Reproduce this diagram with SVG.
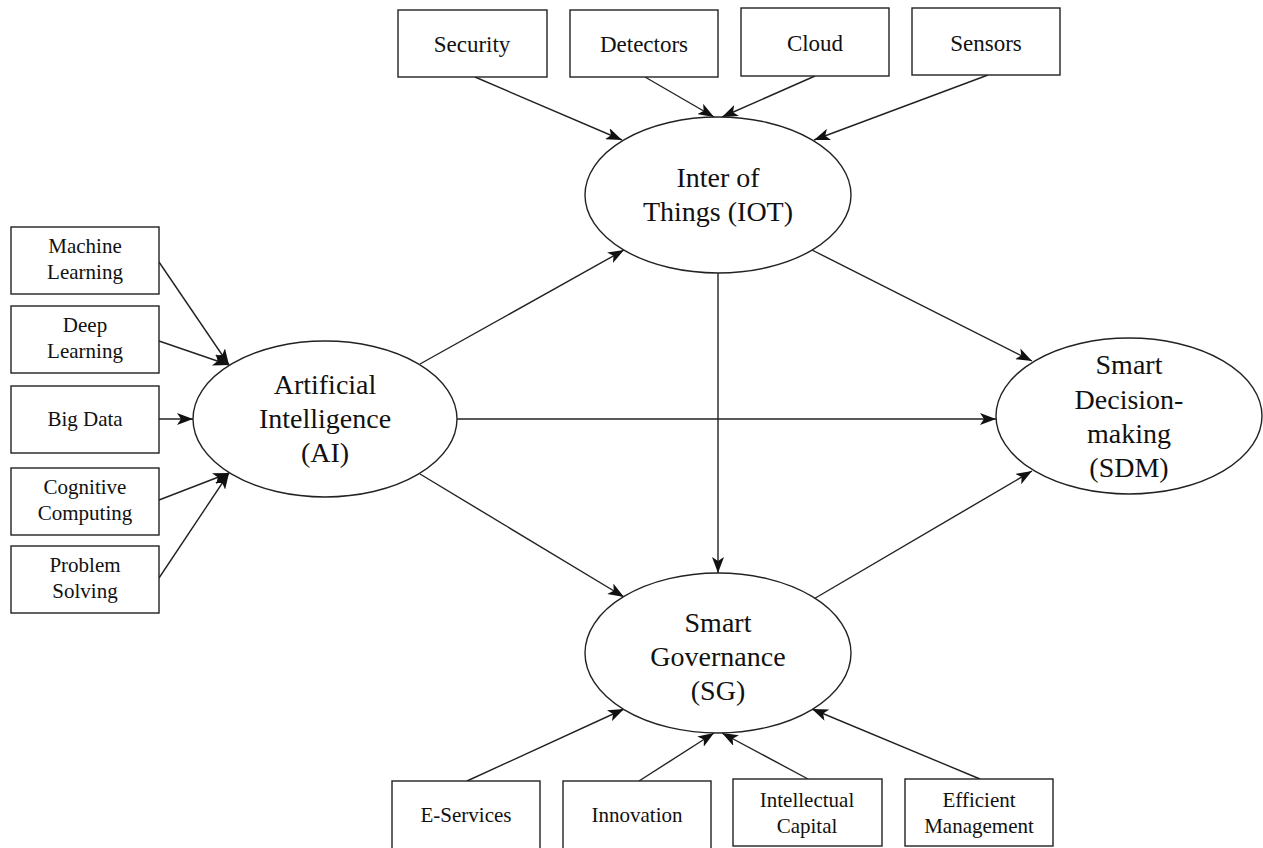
<svg xmlns="http://www.w3.org/2000/svg" width="1263" height="848" viewBox="0 0 1263 848">
<style>
.box{fill:#fff;stroke:#222;stroke-width:1.4}
.ell{fill:#fff;stroke:#222;stroke-width:1.4}
.t{font-family:"Liberation Serif","Times New Roman",serif;fill:#111;text-anchor:middle}
.tb{font-size:23px}
.ts{font-size:21px}
.te{font-size:28px}
.c line{stroke:#222;stroke-width:1.4;marker-end:url(#ah)}
</style>
<defs>
<marker id="ah" viewBox="0 0 16 12" refX="16" refY="6" markerWidth="16" markerHeight="12" markerUnits="userSpaceOnUse" orient="auto">
<path d="M0,0 L16,6 L0,12 L4,6 z" fill="#111"/>
</marker>
</defs>
<rect width="1263" height="848" fill="#fff"/>
<g class="c" id="connectors">
<line x1="475" y1="77" x2="622" y2="140"/>
<line x1="645" y1="77" x2="714" y2="117"/>
<line x1="815" y1="76" x2="722" y2="117"/>
<line x1="988" y1="75" x2="814" y2="140"/>
<line x1="159" y1="262" x2="229" y2="365"/>
<line x1="159" y1="341" x2="229" y2="365"/>
<line x1="159" y1="419" x2="193" y2="419"/>
<line x1="159" y1="500" x2="229" y2="473"/>
<line x1="159" y1="578" x2="229" y2="473"/>
<line x1="420" y1="364" x2="624" y2="250"/>
<line x1="457" y1="419" x2="996" y2="419"/>
<line x1="420" y1="474" x2="624" y2="597"/>
<line x1="718" y1="273" x2="718" y2="573"/>
<line x1="812" y1="250" x2="1032" y2="361"/>
<line x1="812" y1="600" x2="1032" y2="471"/>
<line x1="467" y1="781" x2="624" y2="709"/>
<line x1="639" y1="781" x2="714" y2="733"/>
<line x1="808" y1="779" x2="722" y2="733"/>
<line x1="980" y1="779" x2="812" y2="709"/>
</g>
<g id="security"><rect class="box" x="398" y="10" width="149" height="67"/><text class="t tb" x="472" y="52">Security</text></g>
<g id="detectors"><rect class="box" x="570" y="10" width="148" height="67"/><text class="t tb" x="644" y="52">Detectors</text></g>
<g id="cloud"><rect class="box" x="741" y="8" width="148" height="68"/><text class="t tb" x="815" y="51">Cloud</text></g>
<g id="sensors"><rect class="box" x="912" y="8" width="148" height="67"/><text class="t tb" x="986" y="51">Sensors</text></g>
<g id="machine-learning"><rect class="box" x="11" y="227" width="148" height="67"/><text class="t ts" x="85" y="253">Machine</text><text class="t ts" x="85" y="279">Learning</text></g>
<g id="deep-learning"><rect class="box" x="11" y="306" width="148" height="67"/><text class="t ts" x="85" y="332">Deep</text><text class="t ts" x="85" y="358">Learning</text></g>
<g id="big-data"><rect class="box" x="11" y="386" width="148" height="67"/><text class="t ts" x="85" y="426">Big Data</text></g>
<g id="cognitive-computing"><rect class="box" x="11" y="468" width="148" height="67"/><text class="t ts" x="85" y="494">Cognitive</text><text class="t ts" x="85" y="520">Computing</text></g>
<g id="problem-solving"><rect class="box" x="11" y="546" width="148" height="67"/><text class="t ts" x="85" y="572">Problem</text><text class="t ts" x="85" y="598">Solving</text></g>
<g id="iot"><ellipse class="ell" cx="718" cy="195" rx="133" ry="78"/><text class="t te" x="718" y="187">Inter of</text><text class="t te" x="718" y="221">Things (IOT)</text></g>
<g id="ai"><ellipse class="ell" cx="325" cy="419" rx="132" ry="78"/><text class="t te" x="325" y="394">Artificial</text><text class="t te" x="325" y="428">Intelligence</text><text class="t te" x="325" y="462">(AI)</text></g>
<g id="sdm"><ellipse class="ell" cx="1129" cy="416" rx="133" ry="78"/><text class="t te" x="1129" y="374">Smart</text><text class="t te" x="1129" y="409">Decision-</text><text class="t te" x="1129" y="443">making</text><text class="t te" x="1129" y="477">(SDM)</text></g>
<g id="sg"><ellipse class="ell" cx="718" cy="653" rx="133" ry="80"/><text class="t te" x="718" y="632">Smart</text><text class="t te" x="718" y="666">Governance</text><text class="t te" x="718" y="700">(SG)</text></g>
<g id="e-services"><rect class="box" x="392" y="781" width="148" height="70"/><text class="t ts" x="466" y="822">E-Services</text></g>
<g id="innovation"><rect class="box" x="563" y="781" width="148" height="70"/><text class="t ts" x="637" y="822">Innovation</text></g>
<g id="intellectual-capital"><rect class="box" x="733" y="779" width="149" height="67"/><text class="t ts" x="807" y="807">Intellectual</text><text class="t ts" x="807" y="833">Capital</text></g>
<g id="efficient-management"><rect class="box" x="905" y="779" width="148" height="67"/><text class="t ts" x="979" y="807">Efficient</text><text class="t ts" x="979" y="833">Management</text></g>
</svg>
